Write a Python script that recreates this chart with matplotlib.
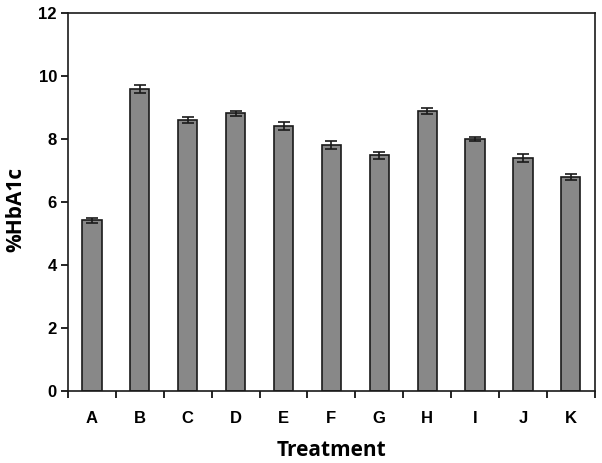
import matplotlib.pyplot as plt
import numpy as np

treatments = ['A', 'B', 'C', 'D', 'E', 'F', 'G', 'H', 'I', 'J', 'K']
hba1c = [5.42, 9.6, 8.6, 8.82, 8.42, 7.81, 7.48, 8.9, 8.01, 7.4, 6.8]
sem = [0.08, 0.13, 0.09, 0.08, 0.12, 0.14, 0.11, 0.1, 0.07, 0.12, 0.1]

fig = plt.figure(figsize=(6.02, 4.63), dpi=100)
ax = fig.add_axes([0.113, 0.155, 0.875, 0.817])

x = np.arange(len(treatments))
ax.bar(x, hba1c, width=0.4, color='#888888', edgecolor='#1a1a1a', linewidth=1.2,
       yerr=sem, error_kw=dict(ecolor='#1a1a1a', elinewidth=1.2, capsize=4, capthick=1.2))

ax.set_xlim(-0.5, len(treatments) - 0.5)
ax.set_ylim(0, 12)
ax.set_yticks(range(0, 13, 2))
ax.set_xticks(x)
ax.set_xticklabels(treatments)
ax.set_xticks(np.arange(-0.5, len(treatments)), minor=True)
ax.tick_params(axis='x', which='major', length=0, pad=14)
ax.tick_params(axis='x', which='minor', length=5, width=1.2, direction='out')
ax.tick_params(axis='y', length=5, width=1.2, direction='out', pad=3)

for lab in ax.get_xticklabels() + ax.get_yticklabels():
    lab.set_fontfamily('Liberation Sans')
    lab.set_fontweight('heavy')
    lab.set_fontsize(12)

for s in ax.spines.values():
    s.set_linewidth(1.2)
    s.set_color('#1a1a1a')

ax.set_xlabel('Treatment', fontfamily='Open Sans', fontweight='bold', fontsize=15, labelpad=10)
ax.set_ylabel('%HbA1c', fontfamily='Open Sans', fontweight='bold', fontsize=15)
ax.yaxis.set_label_coords(-0.08, 0.48)

plt.savefig('out.png')
plt.close()
